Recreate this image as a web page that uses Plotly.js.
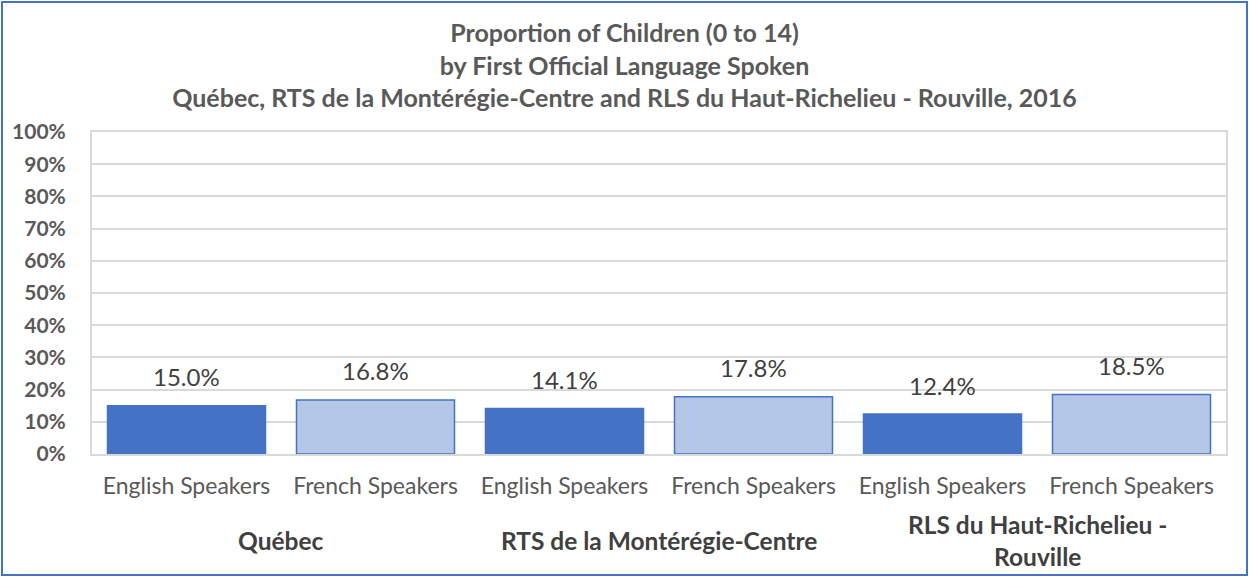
<!DOCTYPE html>
<html><head><meta charset="utf-8">
<script src="https://cdn.plot.ly/plotly-3.0.1.min.js"></script>
<style>
html,body{margin:0;padding:0;background:#fff;}
#wrap{position:relative;width:1249px;height:577px;}
#chart{width:1249px;height:577px;}
#frame{position:absolute;left:1px;top:1px;width:1243px;height:571px;border:2px solid #4472C4;pointer-events:none;}
</style>
</head><body>
<div id="wrap"><div id="chart"></div><div id="frame"></div></div>
<script>
const regions = ["Québec", "RTS de la Montérégie-Centre", "RLS du Haut-Richelieu -<br>Rouville"];
const languages = ["English Speakers", "French Speakers"];
const values = [15.0, 16.8, 14.1, 17.8, 12.4, 18.5];
const yTickVals = [0,10,20,30,40,50,60,70,80,90,100];
const yTickText = ["0%","10%","20%","30%","40%","50%","60%","70%","80%","90%","100%"];
const titleLines = ["Proportion of Children (0 to 14)", "by First Official Language Spoken", "Québec, RTS de la Montérégie-Centre and RLS du Haut-Richelieu - Rouville, 2016"];

const xIds = [], xLabels = [], colors = [];
regions.forEach((r, i) => languages.forEach((l, j) => {
  xIds.push("c" + i + "_" + j);
  xLabels.push(l);
  colors.push(j === 0 ? "#4472C4" : "#B4C7E7");
}));

const trace = {
  type: "bar",
  x: xIds,
  y: values,
  marker: {color: colors, line: {color: "#4472C4", width: 1.5}},
  hoverinfo: "skip"
};

const valueLabels = values.map((v, i) => ({
  xref: "x", yref: "y",
  x: xIds[i], y: v,
  yanchor: "middle", yshift: 29,
  text: v.toFixed(1) + "%",
  showarrow: false,
  font: {family: "Lato", size: 24, color: "#404040"}
}));

const groupLabels = regions.map((r, i) => ({
  xref: "x", yref: "paper",
  x: i * 2 + 0.5, y: 0,
  yshift: -86,
  yanchor: "middle",
  text: "<b>" + r + "</b>",
  showarrow: false,
  font: {family: "Lato", size: 24.5, color: "#404040"}
}));

const layout = {
  width: 1249, height: 577,
  margin: {l: 92, r: 23, t: 132, b: 123},
  paper_bgcolor: "#fff", plot_bgcolor: "#fff",
  showlegend: false,
  bargap: 0.164,
  font: {family: "Lato", color: "#595959"},
  title: {
    text: "<b>" + titleLines.join("<br>") + "</b>",
    x: 0.5, xanchor: "center",
    y: 0.927, yanchor: "top",
    font: {family: "Lato", size: 25, color: "#595959"}
  },
  xaxis: {
    type: "category",
    tickvals: xIds, ticktext: xLabels,
    tickfont: {family: "Lato", size: 23, color: "#595959"},
    showgrid: false, ticks: "",
    showline: true, linecolor: "#D9D9D9", linewidth: 2, mirror: true,
    ticklabelstandoff: 10,
    fixedrange: true
  },
  yaxis: {
    range: [0, 100],
    tickvals: yTickVals, ticktext: yTickText.map(t => "<b>" + t + "</b>"),
    tickfont: {family: "Lato", size: 21, color: "#595959"},
    showgrid: true, gridcolor: "#D9D9D9", gridwidth: 2,
    showline: true, linecolor: "#D9D9D9", linewidth: 2, mirror: true,
    zeroline: false, ticks: "",
    ticklabelstandoff: 20,
    fixedrange: true
  },
  annotations: valueLabels.concat(groupLabels)
};

Plotly.newPlot("chart", [trace], layout, {displayModeBar: false, staticPlot: true});
</script>
</body></html>
